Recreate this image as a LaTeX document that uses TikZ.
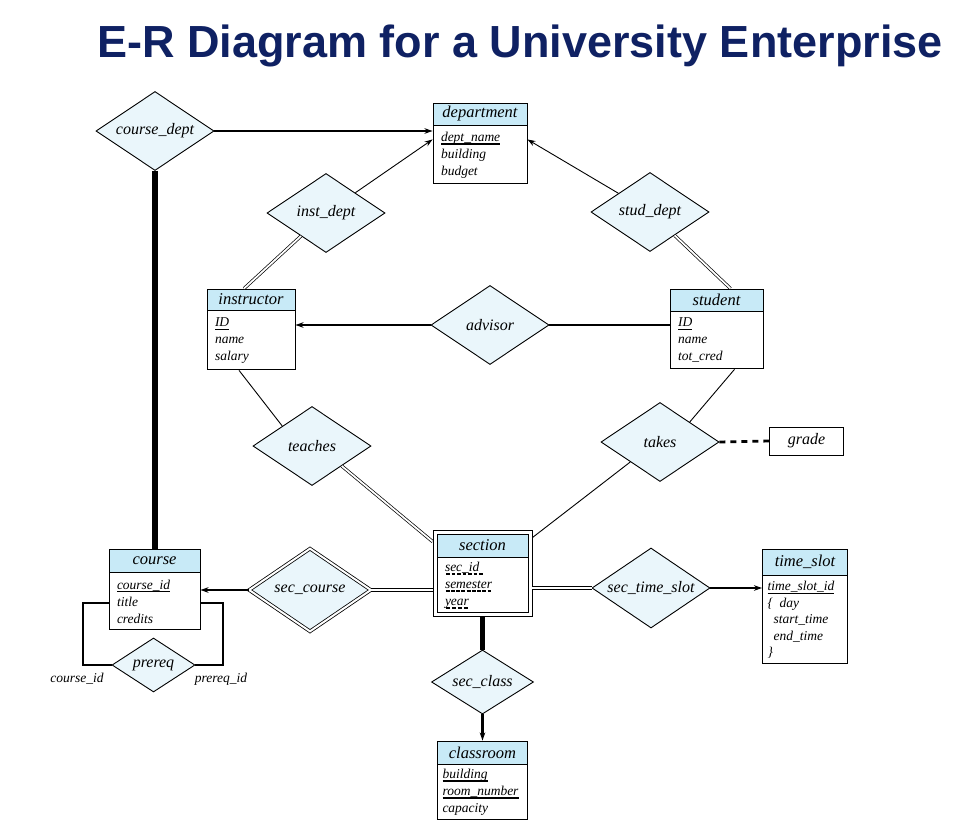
\documentclass[tikz,border=0pt]{standalone}
\usepackage{fontspec}
\setmainfont{Liberation Serif}
\newfontfamily\titlefont{Liberation Sans}
% key and partial-key underlines
\newcommand\keyline[1]{\setbox0\hbox{#1}\leavevmode
  \rlap{\vrule width\wd0 height -2.2pt depth 3.4pt}\box0}
\newcommand\partline[1]{\setbox0\hbox{#1}\leavevmode
  \rlap{\hbox to\wd0{\xleaders\hbox to 5pt{\hss\vrule width 3.8pt height -2.2pt depth 3.6pt\hss}\hfill}}\box0}
\usetikzlibrary{arrows.meta,positioning,shapes.geometric,fit}
\definecolor{titleblue}{HTML}{0F2163}
\definecolor{headblue}{HTML}{C8EAF7}
\definecolor{relblue}{HTML}{EAF6FB}
\tikzset{>={Stealth[length=8pt,width=5.5pt]},
  enthead/.style={draw,fill=headblue,minimum height=22pt,inner sep=0pt,
    font=\itshape\fontsize{16.5}{18}\selectfont},
  entbody/.style={draw,fill=white,align=left,inner xsep=8pt,inner ysep=4pt,
    font=\itshape\fontsize{13.5}{17}\selectfont},
  rel/.style={diamond,aspect=1.5,draw,fill=relblue,inner sep=0pt,line width=.9pt,
    minimum width=118pt,minimum height=79pt,font=\itshape\fontsize{16}{18}\selectfont},
  weakrel/.style={rel,double,double distance=2pt,line width=.8pt},
  attrbox/.style={draw,line width=.9pt,font=\itshape\fontsize{16}{18}\selectfont},
  rolelabel/.style={font=\itshape\fontsize{13.5}{16}\selectfont},
  plainline/.style={line width=.9pt},
  midline/.style={line width=2pt},
  boldline/.style={line width=2.8pt},
  heavyline/.style={line width=5.5pt},
  dblline/.style={double,double distance=1.8pt,line width=.7pt}}

\begin{document}
\begin{tikzpicture}[x=1pt,y=-1pt,line width=.9pt]
\useasboundingbox (0,0) rectangle (975,827);
\node[anchor=base,text=titleblue,font=\titlefont\bfseries\fontsize{45}{50}\selectfont]
  (title) at (520,57) {E-R Diagram for a University Enterprise};
% entity sets
\node[enthead,minimum width=94pt] (deptH) at (480,114) {department};
\node[entbody,text width=78pt,minimum height=58pt,below=0pt of deptH] (deptB)
  {\keyline{dept\_name}\\building\\budget};
\node[enthead,minimum width=88pt,minimum height=21pt] (instH) at (251,299.5) {instructor};
\node[entbody,text width=72pt,minimum height=59pt,below=0pt of instH] (instB)
  {\keyline{ID}\\name\\salary};
\node[enthead,minimum width=93pt] (studH) at (716.5,300) {student};
\node[entbody,text width=77pt,minimum height=57pt,below=0pt of studH] (studB)
  {\keyline{ID}\\name\\tot\_cred};
\node[enthead,minimum width=91pt,minimum height=23pt] (secH) at (482.5,545.5) {section};
\node[entbody,text width=75pt,minimum height=53pt,below=0pt of secH] (secB)
  {\partline{sec\_id\ }\\\partline{semester}\\\partline{year}};
\node[draw,fit=(secH)(secB),inner sep=3.5pt] (section) {};
\node[enthead,minimum width=91pt,minimum height=23pt] (courseH) at (154.5,560.5) {course};
\node[entbody,text width=75pt,minimum height=57pt,below=0pt of courseH] (courseB)
  {\keyline{course\_id}\\title\\credits};
\node[enthead,minimum width=85pt,minimum height=26pt] (tsH) at (805,562) {time\_slot};
\node[entbody,inner xsep=5pt,text width=75pt,minimum height=88pt,below=0pt of tsH,
  font=\itshape\fontsize{13.5}{16.6}\selectfont] (tsB)
  {\keyline{time\_slot\_id}\\\{\enspace day\\\hspace*{6pt}start\_time\\\hspace*{6pt}end\_time\\\}};
\node[enthead,minimum width=90pt,minimum height=23pt] (classH) at (482.5,752.5) {classroom};
\node[entbody,inner xsep=5pt,text width=80pt,minimum height=54pt,below=0pt of classH] (classB)
  {\keyline{building}\\\keyline{room\_number}\\capacity};
\node[attrbox,minimum width=74pt,minimum height=28pt] (grade) at (806.5,441) {grade};
% relationship sets
\node[rel] (coursedept) at (155,131) {course\_dept};
\node[rel] (instdept) at (326,213) {inst\_dept};
\node[rel] (studdept) at (650,212) {stud\_dept};
\node[rel] (advisor) at (490,325) {advisor};
\node[rel] (teaches) at (312,446) {teaches};
\node[rel] (takes) at (660,442) {takes};
\node[weakrel,minimum width=122pt,minimum height=83pt] (seccourse) at (310,590) {sec\_course};
\node[rel,minimum height=80pt] (sectimeslot) at (651,588) {sec\_time\_slot};
\node[rel,minimum width=102pt,minimum height=64pt] (secclass) at (482.5,682) {sec\_class};
\node[rel,minimum width=83pt,minimum height=54pt] (prereq) at (153.5,665) {prereq};
\node[rolelabel] (rolecid) at (77,679) {course\_id};
\node[rolelabel] (rolepid) at (221,679) {prereq\_id};
\coordinate (loopL) at (83,603);
\coordinate (loopR) at (223,603);
% connectors
\draw[boldline,->] (coursedept.east) -- (coursedept.east -| deptB.west);
\draw[heavyline] (coursedept.south) -- (coursedept.south |- courseH.north);
\draw[plainline,->] (instdept) -- ([yshift=-14pt]deptB.north west);
\draw[plainline,->] (studdept) -- ([yshift=-14pt]deptB.north east);
\draw[dblline] (instdept) -- ([xshift=-7pt]instH.north);
\draw[dblline] (studdept) -- ([xshift=14pt]studH.north);
\draw[boldline,->] (advisor.west) -- (advisor.west -| instB.east);
\draw[boldline] (advisor.east) -- (advisor.east -| studB.west);
\draw[plainline] ([xshift=-12pt]instB.south) -- (teaches.north west);
\draw[dblline] (teaches.south east) -- ([yshift=-12pt]section.north west);
\draw[plainline] ([xshift=18pt]studB.south) -- (takes.north east);
\draw[plainline] (takes.south west) -- ([yshift=-8pt]section.north east);
\draw[boldline,dash pattern=on 6pt off 5pt] (takes.east) -- (grade.west);
\draw[dblline] (seccourse.east) -- (seccourse.east -| section.west);
\draw[boldline,->] (seccourse.west) -- (seccourse.west -| courseB.east);
\draw[dblline] (sectimeslot.west) -- (sectimeslot.west -| section.east);
\draw[midline,->] (sectimeslot.east) -- (sectimeslot.east -| tsB.west);
\draw[heavyline] (section.south) -- (secclass.north);
\draw[boldline,->] (secclass.south) -- (classH.north);
\draw[boldline] (prereq.west) -| (loopL) -- (loopL -| courseB.west);
\draw[boldline] (prereq.east) -| (loopR) -- (loopR -| courseB.east);
\end{tikzpicture}
\end{document}
